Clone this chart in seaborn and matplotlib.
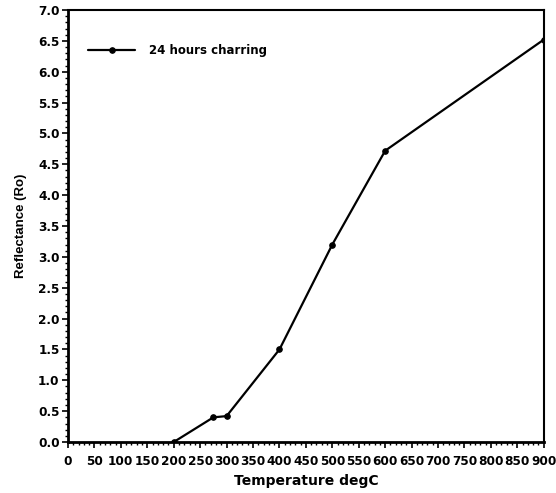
import matplotlib
matplotlib.use("Agg")
import matplotlib.pyplot as plt
from matplotlib.ticker import MultipleLocator
import seaborn as sns
import pandas as pd

temperature = [200, 275, 300, 400, 500, 600, 900]
reflectance = [0.0, 0.40, 0.42, 1.50, 3.20, 4.72, 6.52]
series_name = "24 hours charring"
x_ticks = list(range(0, 901, 50))
y_ticks = [i * 0.5 for i in range(15)]

sns.set_theme(style="ticks")
plt.rcParams["font.family"] = ["DejaVu Sans"]
plt.rcParams["font.weight"] = "bold"
plt.rcParams["text.color"] = "black"
plt.rcParams["axes.labelcolor"] = "black"

df = pd.DataFrame({"Temperature degC": temperature, "Reflectance (Ro)": reflectance,
                   "series": series_name})

fig = plt.figure(figsize=(5.56, 4.93), dpi=100)
ax = fig.add_axes([0.1223, 0.1034, 0.8557, 0.8763])

sns.lineplot(data=df, x="Temperature degC", y="Reflectance (Ro)", hue="series",
             palette=["black"], marker="o", markersize=4, linewidth=1.6,
             markeredgecolor="black", ax=ax)

ax.set_xlim(0, 900)
ax.set_ylim(0, 7.0)
ax.set_xticks(x_ticks)
ax.set_xticklabels([str(t) for t in x_ticks])
ax.set_yticks(y_ticks)
ax.set_yticklabels([f"{t:.1f}" for t in y_ticks])
ax.xaxis.set_minor_locator(MultipleLocator(10))
ax.yaxis.set_minor_locator(MultipleLocator(0.1))
ax.tick_params(axis="both", which="major", direction="out", length=4, width=1.2,
               labelsize=8.7, colors="black")
ax.tick_params(axis="x", which="major", pad=5)
ax.tick_params(axis="y", which="major", pad=2)
ax.tick_params(axis="both", which="minor", direction="out", length=2.5, width=1.0,
               colors="black")
for lbl in ax.get_xticklabels() + ax.get_yticklabels():
    lbl.set_fontweight("bold")
    lbl.set_color("black")

for side in ["left", "bottom"]:
    ax.spines[side].set_linewidth(2.0)
for side in ["top", "right"]:
    ax.spines[side].set_linewidth(1.5)
for s in ax.spines.values():
    s.set_color("black")

ax.set_xlabel("Temperature degC", fontsize=10, fontweight="heavy", labelpad=5,
              color="black")
ax.set_ylabel("Reflectance (Ro)", fontsize=9.5, fontweight="heavy", labelpad=8,
              family="Liberation Sans", color="black")

leg = ax.legend(loc="upper left", bbox_to_anchor=(0.02, 0.945), frameon=False,
                handlelength=4.0, handletextpad=1.15, fontsize=8.5)
for t in leg.get_texts():
    t.set_fontweight("bold")
    t.set_color("black")

fig.savefig("out.png", dpi=100)
